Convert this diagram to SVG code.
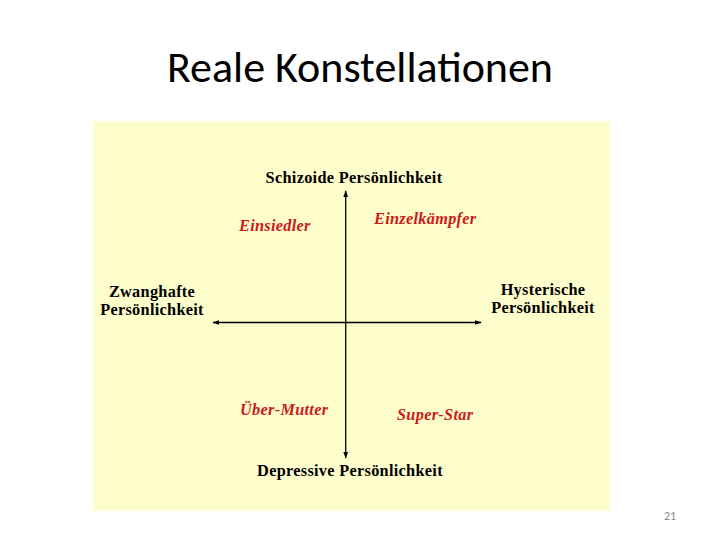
<svg xmlns="http://www.w3.org/2000/svg" width="720" height="540" viewBox="0 0 720 540">
<style>
.t{font-family:"Liberation Serif","Times New Roman",serif;font-weight:bold;font-size:16.3px;letter-spacing:0.3px;fill:#000;text-anchor:middle}
.r{font-family:"Liberation Serif","Times New Roman",serif;font-weight:bold;font-style:italic;font-size:16.3px;letter-spacing:0.3px;fill:#cc1a1a}
.ax{stroke:#000;stroke-width:1.3;fill:none;marker-start:url(#ah);marker-end:url(#ah)}
</style>
<defs>
<marker id="ah" viewBox="0 0 10 10" refX="9" refY="5" markerWidth="7" markerHeight="7" orient="auto-start-reverse" markerUnits="userSpaceOnUse"><path d="M0,1.5 L10,5 L0,8.5 z" fill="#000"/></marker>
</defs>
<rect width="720" height="540" fill="#fff"/>
<text x="360" y="82" font-family="Carlito,'Open Sans','Liberation Sans',sans-serif" font-size="44" fill="#000" text-anchor="middle">Reale Konstellationen</text>
<rect x="93" y="121" width="517" height="390" fill="#fefdcc"/>
<g id="connectors">
<line class="ax" x1="345.7" y1="191" x2="345.7" y2="458"/>
<line class="ax" x1="213" y1="322.5" x2="481" y2="322.5"/>
</g>
<g id="schizoid"><text class="t" x="354" y="183">Schizoide Persönlichkeit</text></g>
<g id="depressive"><text class="t" x="350" y="476">Depressive Persönlichkeit</text></g>
<g id="zwanghafte"><text class="t" x="152" y="297">Zwanghafte</text><text class="t" x="152" y="315">Persönlichkeit</text></g>
<g id="hysterische"><text class="t" x="543" y="295">Hysterische</text><text class="t" x="543" y="313">Persönlichkeit</text></g>
<g id="einsiedler"><text class="r" x="239" y="231">Einsiedler</text></g>
<g id="einzelkaempfer"><text class="r" x="374" y="224">Einzelkämpfer</text></g>
<g id="uebermutter"><text class="r" x="240" y="415">Über-Mutter</text></g>
<g id="superstar"><text class="r" x="397" y="420">Super-Star</text></g>
<text x="670" y="520" font-family="Carlito,'Open Sans','Liberation Sans',sans-serif" font-size="12" fill="#8c8c8c" text-anchor="middle">21</text>
</svg>
